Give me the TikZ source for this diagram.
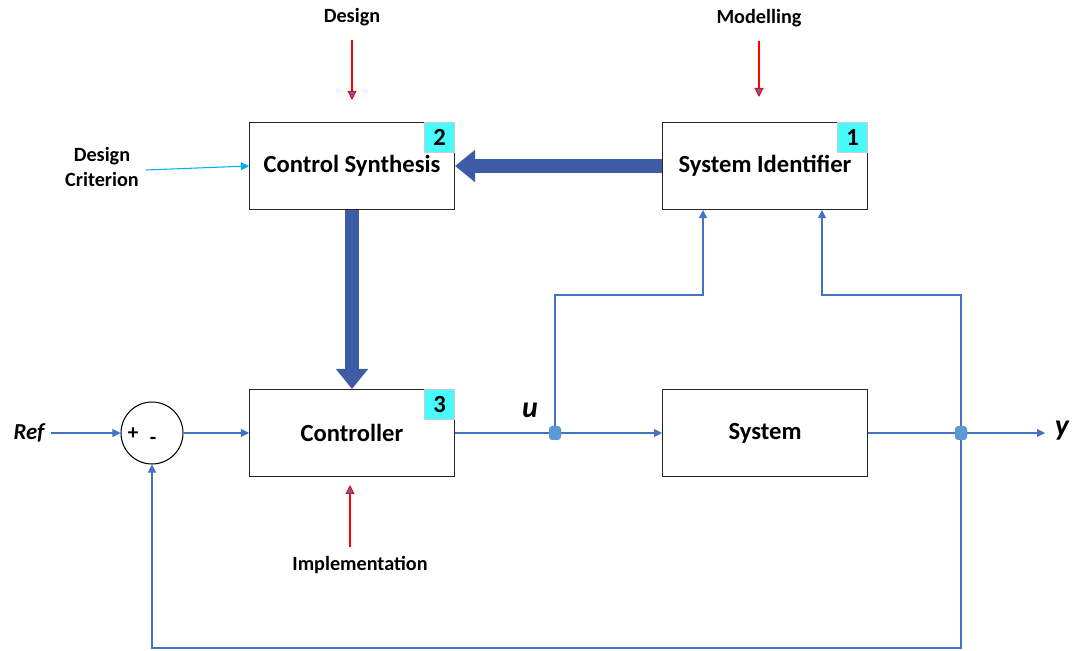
\documentclass[tikz,border=0pt]{standalone}
\usepackage{fontspec}
\setmainfont{Carlito}
\usepackage{tikz}
\usetikzlibrary{arrows.meta,positioning,calc}
\definecolor{lineblue}{RGB}{68,114,196}
\definecolor{thickblue}{RGB}{61,92,165}
\definecolor{dotblue}{RGB}{91,155,213}
\definecolor{critblue}{RGB}{0,176,240}
\definecolor{badgecyan}{RGB}{72,250,250}

\begin{document}
\begin{tikzpicture}[
		x=0.02cm, y=-0.02cm,
		block/.style={draw=black!85, line width=0.6pt, fill=white, minimum width=4.1cm, minimum height=1.74cm, font=\fontsize{14}{16}\selectfont\bfseries},
		badge/.style={fill=badgecyan, draw=black!20, line width=0.5pt, minimum size=0.6cm, inner sep=0pt, anchor=north east, font=\fontsize{14}{16}\selectfont\bfseries},
		note/.style={font=\fontsize{11.5}{14}\selectfont\bfseries, align=center, inner sep=1pt},
		sig/.style={draw=lineblue, line width=0.6pt, -{Triangle[length=1.6mm,width=1.6mm]}},
		wire/.style={draw=lineblue, line width=0.6pt},
		redarr/.style={draw=red, line width=0.6pt, -{Triangle[length=1.8mm,width=1.8mm,fill=lineblue]}},
		fat/.style={draw=thickblue, line width=0.28cm, -{Triangle[length=0.4cm,width=0.62cm]}},
		junc/.style={fill=dotblue, rounded corners=2pt, minimum width=0.24cm, minimum height=0.28cm, inner sep=0pt}
		]
		\useasboundingbox (0,0) rectangle (1075,651);
		% blocks
		\node[block] (cs) at (352,166) {Control Synthesis};
		\node[block] (si) at (765,166) {System Identifier};
		\node[block] (ctrl) at (352,433) {Controller};
		\node[block] (sys) at (765,433) {System};
		\node[badge] (b2) at (cs.north east) {2};
		\node[badge] (b1) at (si.north east) {1};
		\node[badge] (b3) at (ctrl.north east) {3};
		% summing point
		\node[circle, draw=black, line width=0.6pt, minimum size=1.24cm, inner sep=0pt] (sum) at (152,433) {};
		\node[font=\fontsize{12}{14}\selectfont\bfseries] at (133,434) {+};
		\node[font=\fontsize{12}{14}\selectfont\bfseries] at (153,441) {-};
		% junctions
		\node[junc] (ju) at (555,433) {};
		\node[junc] (jy) at (961,433) {};
		% labels
		\node[font=\fontsize{13}{15}\selectfont\bfseries\itshape] (ref) at (29,433) {Ref};
		\node[font=\fontsize{17}{19}\selectfont\bfseries\itshape] (u) at (530,410) {u};
		\node[font=\fontsize{17}{19}\selectfont\bfseries\itshape] (y) at (1062,431) {y};
		\node[note] (design) at (352,17) {Design};
		\node[note] (model) at (759,18) {Modelling};
		\node[note] (impl) at (360,565) {Implementation};
		\node[note] (crit) at (102,167) {Design\\Criterion};
		\coordinate (dtip) at (352,100);
		\coordinate (mtip) at (759,97);
		\coordinate (itip) at (350,485);
		\coordinate (ytip) at (1045,433);
		\coordinate (utop) at (703,295);
		\coordinate (ytop) at (822,295);
		\coordinate (fb) at (961,648);
		% thick arrows
		\draw[fat] (si.west) -- (cs.east);
		\draw[fat] (cs.south) -- (ctrl.north);
		% red arrows
		\draw[redarr] (design.south) ++(0,12) -- (dtip);
		\draw[redarr] (model.south) ++(0,12) -- (mtip);
		\draw[redarr] (itip |- impl.north) ++(0,-7) -- (itip);
		\draw[draw=critblue, line width=0.6pt, -{Triangle[length=1.6mm,width=1.6mm]}] ($(crit.east)+(5,3)$) -- (cs.west);
		% signal lines
		\draw[sig] (ref) -- (sum);
		\draw[sig] (sum) -- (ctrl);
		\draw[wire] (ctrl) -- (ju);
		\draw[sig] (ju) -- (sys);
		\draw[wire] (sys) -- (jy);
		\draw[sig] (jy) -- (ytip);
		\draw[sig] (ju) |- (utop) -- (utop |- si.south);
		\draw[sig] (jy) |- (ytop) -- (ytop |- si.south);
		\draw[sig] (jy) -- (fb) -| (sum.south);
		\node[junc] at (ju) {};
		\node[junc] at (jy) {};
\end{tikzpicture}
\end{document}
